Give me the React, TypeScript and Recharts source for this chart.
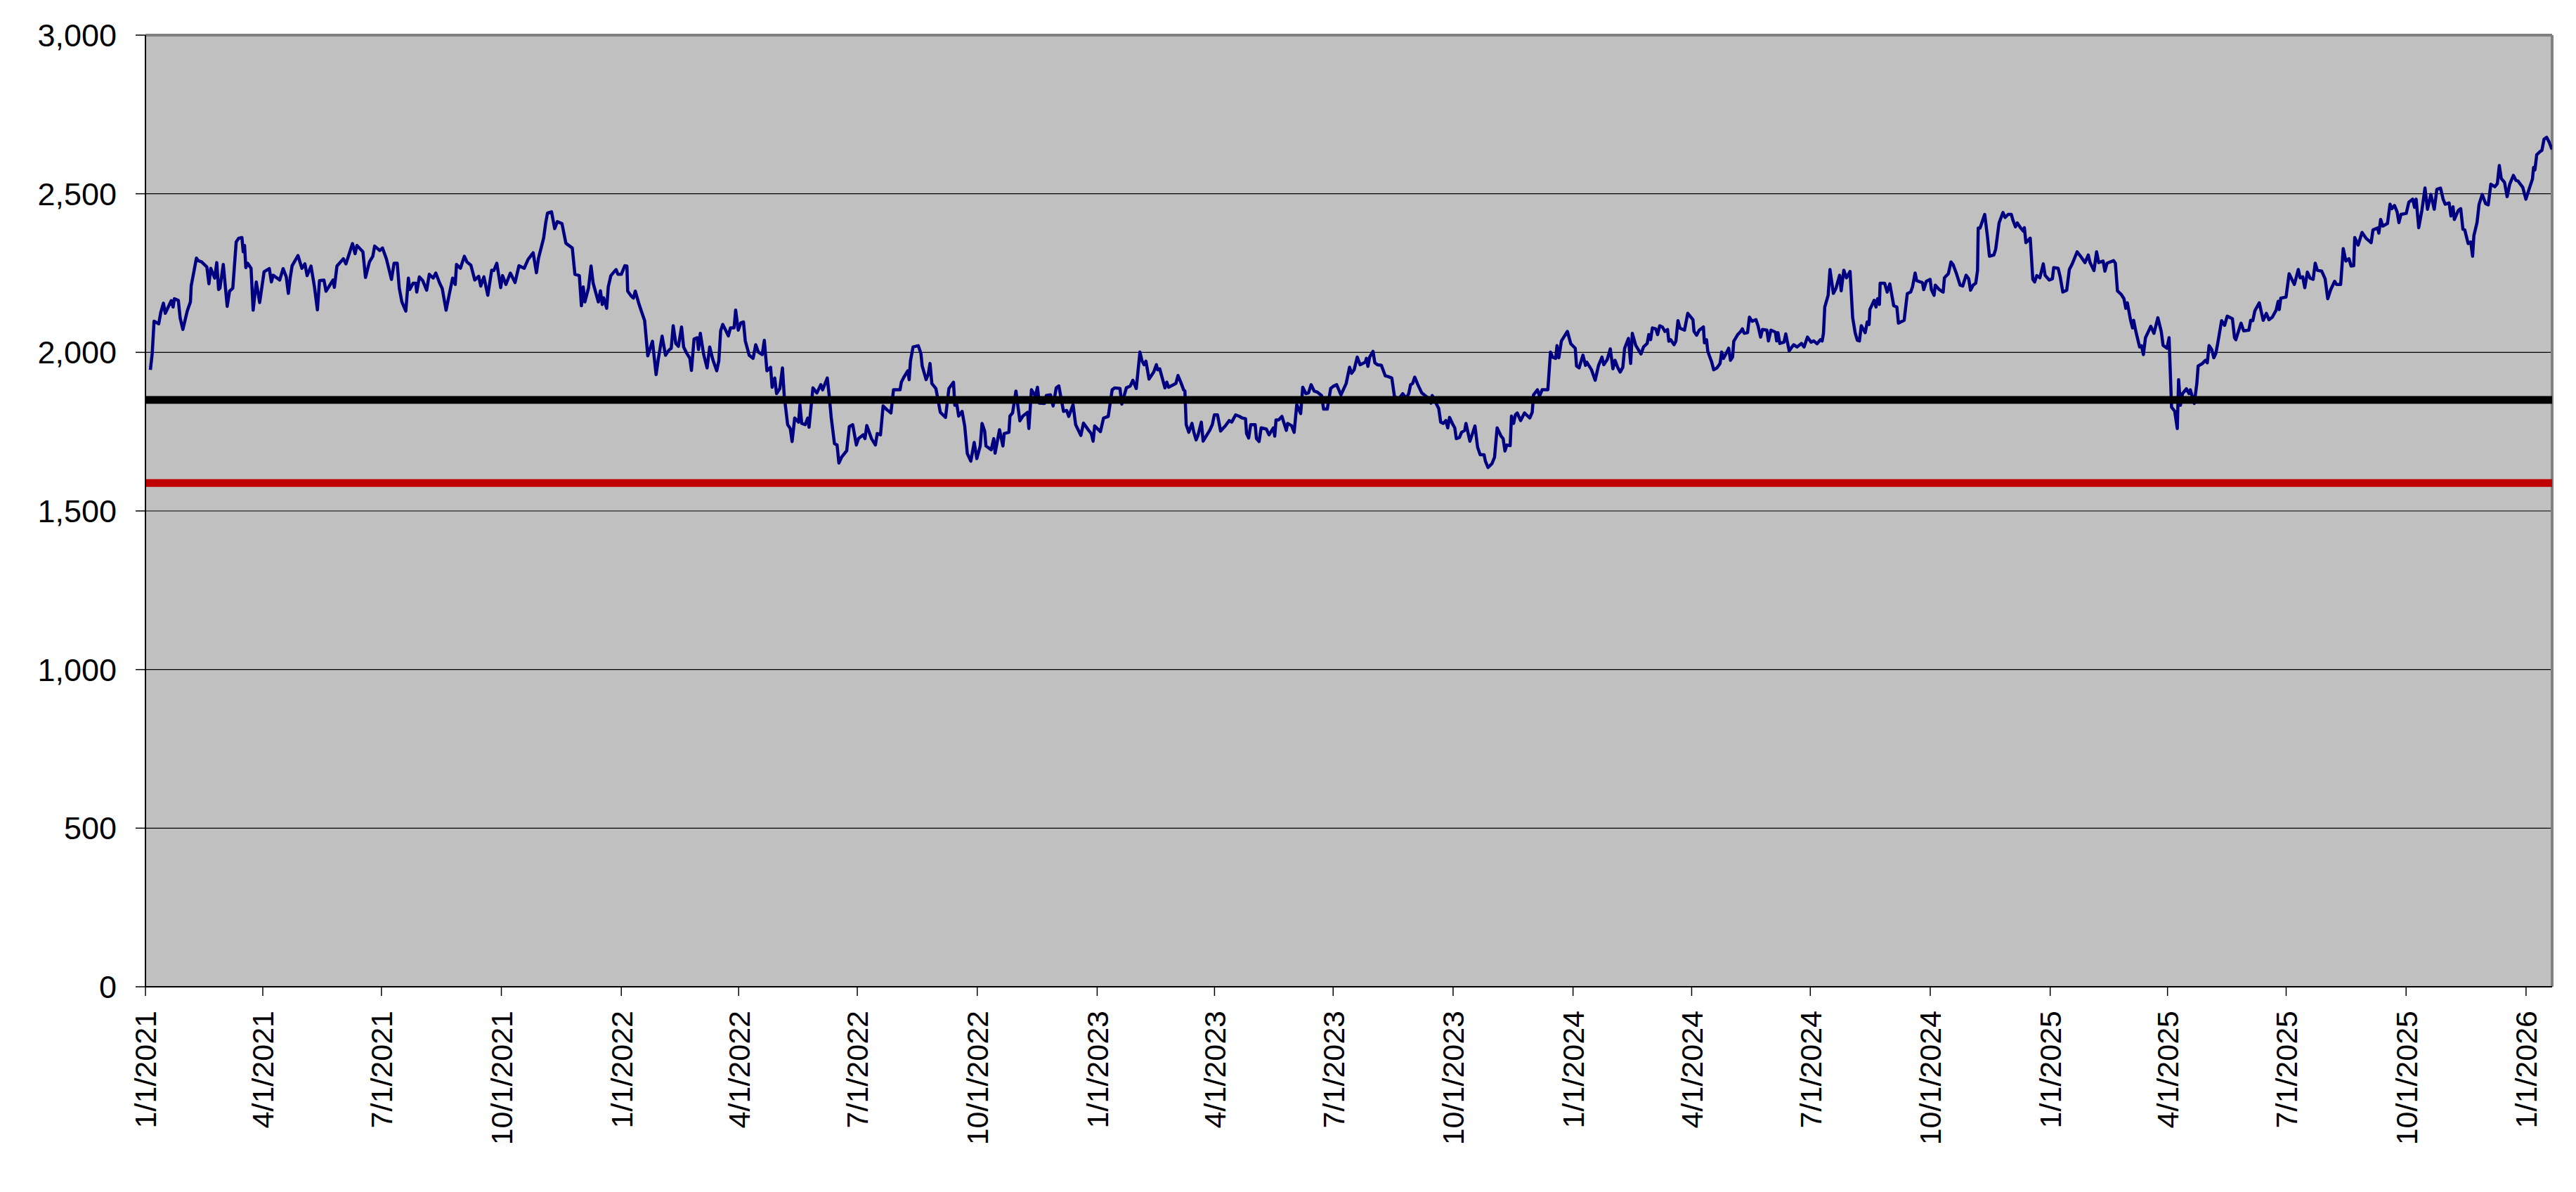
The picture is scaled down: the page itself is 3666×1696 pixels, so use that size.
import { LineChart, Line, XAxis, YAxis, CartesianGrid, ReferenceLine } from 'recharts'

// days since 1/1/2021, index value
const indexPoints: [number, number][] = [
  [3.8, 1945], [5.2, 1997], [6.6, 2098], [10.2, 2090], [11.8, 2127], [13.8, 2155], [15.2, 2123], [19.8, 2163], [21.2, 2143], [22.2, 2169], [25.2, 2164], [26.6, 2109], [28.7, 2072], [32.1, 2131], [34.5, 2159], [35.1, 2210], [39.1, 2297], [40.5, 2289], [43.1, 2285], [47.1, 2269], [48.7, 2216], [50.1, 2265], [53.1, 2234], [54.7, 2283], [56.1, 2198], [57.1, 2202], [59.7, 2277], [62.7, 2145], [64.5, 2193], [67.0, 2202], [69.6, 2348], [71.6, 2360], [74.0, 2362], [75.0, 2317], [76.0, 2337], [77.0, 2267], [78.4, 2281], [81.0, 2265], [82.6, 2133], [85.0, 2222], [87.6, 2157], [91.0, 2254], [95.0, 2264], [96.6, 2222], [98.0, 2243], [103.0, 2228], [105.6, 2264], [108.0, 2238], [109.6, 2186], [111.0, 2234], [112.5, 2273], [117.0, 2305], [120.0, 2265], [122.3, 2279], [124.0, 2242], [127.0, 2272], [129.5, 2210], [131.9, 2134], [133.5, 2226], [136.9, 2228], [138.5, 2193], [143.9, 2228], [144.9, 2205], [146.9, 2272], [151.8, 2295], [153.8, 2279], [158.8, 2343], [160.8, 2311], [162.2, 2337], [166.8, 2317], [168.8, 2236], [171.8, 2285], [174.4, 2303], [175.8, 2335], [179.8, 2321], [181.8, 2329], [184.8, 2295], [188.7, 2230], [190.7, 2281], [193.1, 2281], [194.7, 2202], [196.7, 2159], [199.7, 2130], [201.7, 2234], [202.7, 2198], [205.3, 2218], [207.3, 2218], [208.1, 2190], [210.1, 2238], [212.7, 2226], [215.7, 2196], [217.7, 2246], [220.7, 2234], [222.7, 2250], [225.7, 2218], [227.6, 2202], [230.6, 2133], [233.2, 2186], [235.6, 2234], [237.6, 2214], [238.6, 2277], [241.6, 2265], [244.6, 2303], [246.6, 2285], [249.6, 2275], [252.6, 2228], [255.6, 2240], [257.2, 2209], [259.6, 2238], [262.6, 2180], [265.6, 2259], [267.2, 2258], [269.5, 2281], [272.5, 2204], [273.9, 2242], [276.5, 2214], [279.9, 2250], [283.5, 2220], [286.5, 2273], [290.5, 2265], [293.5, 2293], [297.4, 2314], [299.9, 2251], [301.5, 2297], [305.4, 2360], [307.0, 2408], [308.4, 2439],
  [311.5, 2443], [313.9, 2390], [315.9, 2412], [319.5, 2406], [322.5, 2344], [327.4, 2329], [329.4, 2246], [332.8, 2242], [334.4, 2147], [335.8, 2206], [337.0, 2159], [339.8, 2202], [341.8, 2272], [343.4, 2218], [347.4, 2159], [349.0, 2194], [350.4, 2151], [351.4, 2172], [353.8, 2139], [355.0, 2206], [357.0, 2242], [361.0, 2261], [362.4, 2246], [365.0, 2246], [367.7, 2273], [369.3, 2272], [369.9, 2193], [372.3, 2179], [374.3, 2171], [375.7, 2193], [378.3, 2156], [380.3, 2131], [382.9, 2100], [385.3, 1989], [388.9, 2035], [391.7, 1930], [393.3, 1977], [396.3, 2051], [398.9, 1991], [401.3, 2006], [403.3, 2013], [404.8, 2084], [406.8, 2028], [408.8, 2019], [411.2, 2080], [412.8, 2017], [415.2, 1997], [417.6, 1981], [418.8, 1943], [420.8, 2042], [423.2, 2046], [424.2, 2009], [425.6, 2060], [428.2, 1993], [430.8, 1951], [432.8, 2017], [435.2, 1977], [438.2, 1942], [439.8, 1973], [441.2, 2068], [442.8, 2088], [445.5, 2066], [447.1, 2052], [448.7, 2077], [451.5, 2077], [452.7, 2133], [454.7, 2070], [456.7, 2093], [458.7, 2096], [460.1, 2036], [463.1, 1991], [466.1, 1981], [468.1, 2024], [470.1, 2001], [473.1, 1993], [474.7, 2038], [476.7, 1942], [479.5, 1953], [480.7, 1890], [482.7, 1919], [484.1, 1870], [486.6, 1886], [488.6, 1951], [490.0, 1862], [492.6, 1772], [494.6, 1760], [496.0, 1719], [498.0, 1793], [501.0, 1780], [502.0, 1835], [503.4, 1776], [506.0, 1772], [508.0, 1793], [509.0, 1764], [512.0, 1888], [515.0, 1872], [518.0, 1898], [519.4, 1882], [523.0, 1919], [524.6, 1859], [526.0, 1795], [528.5, 1712], [530.5, 1708], [531.9, 1651], [533.9, 1669], [537.9, 1690], [539.9, 1766], [542.5, 1772], [545.3, 1708], [546.9, 1728], [550.5, 1740], [551.9, 1728], [553.3, 1769], [556.9, 1728], [559.9, 1708], [561.3, 1744], [563.8, 1740], [565.8, 1831], [568.8, 1819], [571.8, 1809], [573.8, 1882], [578.8, 1882], [579.8, 1906], [581.8, 1922], [584.8, 1942], [585.8, 1914], [586.8, 1973], [588.8, 2017], [592.8, 2021], [594.8, 1997], [595.8, 1957], [598.8, 1914], [600.4, 1930], [601.8, 1965], [603.2, 1902], [606.3, 1886], [609.7, 1811], [613.7, 1795], [616.3, 1886],
  [619.8, 1906], [620.8, 1833], [622.4, 1835], [623.8, 1799], [626.4, 1814], [628.4, 1768], [630.4, 1681], [633.1, 1657], [635.7, 1716], [637.7, 1665], [640.3, 1705], [641.7, 1776], [643.7, 1752], [644.7, 1705], [648.7, 1693], [650.7, 1728], [651.7, 1682], [655.1, 1756], [657.7, 1705], [658.7, 1744], [662.3, 1748], [663.1, 1799], [665.1, 1809], [667.7, 1878], [670.7, 1784], [673.0, 1799], [676.6, 1811], [677.6, 1760], [679.6, 1882], [682.6, 1862], [684.2, 1890], [685.6, 1840], [689.6, 1839], [691.0, 1864], [694.2, 1866], [696.2, 1831], [698.6, 1888], [700.6, 1894], [704.2, 1814], [706.6, 1817], [708.2, 1798], [711.5, 1835], [713.5, 1772], [717.5, 1738], [719.5, 1777], [723.5, 1754], [725.5, 1744], [726.9, 1720], [728.1, 1768], [732.5, 1750], [734.9, 1793], [738.5, 1798], [741.5, 1882], [743.5, 1888], [747.5, 1886], [748.9, 1837], [752.4, 1888], [755.4, 1894], [757.4, 1912], [760.0, 1886], [762.8, 2001], [764.4, 1973], [766.0, 1961], [767.4, 1972], [769.8, 1916], [773.4, 1938], [775.4, 1961], [776.4, 1945], [778.0, 1948], [782.0, 1888], [783.4, 1906], [784.8, 1890], [790.4, 1902], [792.0, 1927], [794.3, 1904], [796.3, 1882], [797.3, 1878], [798.3, 1772], [800.3, 1748], [802.7, 1776], [804.3, 1746], [805.9, 1724], [807.3, 1738], [809.9, 1780], [811.3, 1720], [813.9, 1738], [816.3, 1754], [818.3, 1772], [819.9, 1803], [822.3, 1803], [824.7, 1752], [828.3, 1768], [831.3, 1785], [833.2, 1780], [836.2, 1803], [839.2, 1798], [841.2, 1793], [843.8, 1791], [844.6, 1744], [846.2, 1730], [847.8, 1772], [851.2, 1772], [852.2, 1728], [854.2, 1719], [855.8, 1762], [859.8, 1758], [861.8, 1740], [865.2, 1762], [866.2, 1736], [867.2, 1787], [869.2, 1787], [871.7, 1798], [875.1, 1754], [876.1, 1776], [879.1, 1769], [881.1, 1748], [883.1, 1835], [886.1, 1807], [887.7, 1890], [890.1, 1870], [892.1, 1872], [894.1, 1898], [896.5, 1878], [899.1, 1874], [902.1, 1864], [903.7, 1821], [906.5, 1821], [909.1, 1886], [911.1, 1893], [913.7, 1898], [917.0, 1866], [921.0, 1902], [923.6, 1953],
  [925.1, 1934], [927.1, 1945], [929.5, 1985], [931.7, 1961], [935.7, 1969], [936.5, 1981], [937.7, 1956], [939.0, 1985], [941.6, 2003], [943.0, 1967], [945.0, 1961], [948.0, 1959], [951.0, 1926], [953.0, 1924], [956.0, 1919], [958.0, 1862], [961.0, 1851], [964.4, 1870], [967.0, 1855], [969.0, 1870], [970.4, 1898], [972.0, 1902], [973.6, 1922], [976.0, 1898], [979.0, 1872], [983.0, 1859], [986.0, 1840], [987.0, 1864], [990.0, 1839], [992.0, 1823], [993.5, 1780], [995.5, 1776], [997.5, 1785], [998.9, 1762], [1000.3, 1795], [1002.9, 1772], [1004.3, 1762], [1005.5, 1728], [1007.9, 1732], [1009.5, 1748], [1011.9, 1754], [1012.9, 1776], [1015.9, 1720], [1017.9, 1744], [1019.8, 1768], [1021.8, 1701], [1023.8, 1677], [1026.8, 1677], [1027.8, 1657], [1029.8, 1637], [1032.8, 1649], [1034.8, 1669], [1036.8, 1762], [1039.8, 1736], [1041.4, 1728], [1042.8, 1689], [1044.2, 1708], [1046.8, 1706], [1047.8, 1799], [1049.4, 1776], [1050.8, 1803], [1052.2, 1809], [1054.8, 1785], [1057.8, 1809], [1061.8, 1793], [1063.7, 1811], [1064.7, 1866], [1067.7, 1882], [1069.3, 1862], [1071.3, 1882], [1075.7, 1882], [1077.7, 2001], [1079.3, 1985], [1081.7, 1981], [1082.7, 2021], [1084.1, 1983], [1086.1, 2036], [1090.7, 2066], [1093.3, 2027], [1096.7, 2013], [1097.7, 1957], [1099.7, 1951], [1102.6, 1991], [1104.6, 1959], [1105.6, 1969], [1109.2, 1945], [1112.0, 1912], [1114.6, 1959], [1117.2, 1985], [1118.6, 1961], [1121.2, 1977], [1123.6, 2011], [1125.6, 1948], [1127.2, 1975], [1129.2, 1953], [1131.2, 1938], [1133.2, 1953], [1134.6, 2013], [1137.5, 2044], [1139.2, 1965], [1140.5, 2060], [1143.1, 2022], [1147.1, 1995], [1149.1, 2017], [1151.9, 2028], [1153.1, 2056], [1154.5, 2040], [1155.9, 2077], [1158.5, 2074], [1159.9, 2056], [1161.5, 2084], [1163.5, 2080], [1165.5, 2066], [1167.5, 2072], [1168.5, 2035], [1169.9, 2040], [1172.5, 2024], [1173.9, 2035], [1175.5, 2100], [1177.1, 2076], [1180.5, 2070], [1183.0, 2123], [1185.4, 2111], [1187.0, 2103], [1187.8, 2066], [1189.8, 2054], [1191.8, 2070], [1195.0, 2080], [1195.8, 2030], [1197.4, 2040], [1198.4, 2003], [1201.4, 1969], [1202.9, 1945], [1205.4, 1951], [1207.8, 1965], [1209.0, 2001], [1210.4, 1981], [1213.0, 2001], [1214.4, 2013], [1215.8, 1975], [1217.4, 1985], [1218.3, 2035], [1221.3, 2056], [1223.3, 2064], [1224.9, 2074], [1226.3, 2060], [1228.9, 2062], [1230.3, 2111],
  [1232.3, 2098], [1235.3, 2103], [1236.9, 2084], [1238.9, 2048], [1240.3, 2072], [1243.7, 2070], [1244.9, 2036], [1246.8, 2070], [1250.2, 2064], [1251.2, 2036], [1252.2, 2062], [1253.6, 2028], [1256.8, 2032], [1258.2, 2058], [1260.8, 2005], [1264.2, 2024], [1266.8, 2017], [1270.2, 2028], [1272.2, 2017], [1274.8, 2048], [1277.6, 2032], [1279.6, 2036], [1282.2, 2027], [1284.8, 2040], [1286.1, 2036], [1287.1, 2060], [1288.1, 2143], [1290.7, 2180], [1292.1, 2261], [1294.7, 2186], [1296.7, 2202], [1299.5, 2243], [1300.7, 2194], [1302.7, 2259], [1304.7, 2235], [1306.1, 2245], [1307.5, 2255], [1309.5, 2109], [1311.5, 2060], [1313.1, 2038], [1314.7, 2036], [1316.1, 2084], [1319.1, 2062], [1320.7, 2096], [1322.1, 2088], [1322.7, 2135], [1326.0, 2164], [1327.4, 2143], [1328.6, 2169], [1330.0, 2151], [1330.6, 2218], [1334.0, 2218], [1336.0, 2190], [1338.0, 2216], [1341.0, 2147], [1343.4, 2143], [1344.6, 2092], [1349.0, 2101], [1351.4, 2185], [1354.0, 2190], [1355.4, 2206], [1357.4, 2250], [1358.6, 2226], [1363.0, 2220], [1364.0, 2198], [1366.0, 2224], [1368.9, 2230], [1369.9, 2198], [1371.9, 2180], [1372.9, 2212], [1375.9, 2198], [1377.3, 2194], [1378.9, 2190], [1379.9, 2235], [1382.9, 2248], [1384.9, 2285], [1386.5, 2277], [1389.3, 2246], [1391.9, 2212], [1393.9, 2209], [1396.5, 2243], [1398.5, 2232], [1399.9, 2196], [1401.9, 2212], [1403.9, 2218], [1405.3, 2258], [1405.8, 2392], [1407.2, 2392], [1410.8, 2435], [1412.8, 2368], [1414.4, 2303], [1417.8, 2307], [1419.2, 2325], [1421.8, 2408], [1424.8, 2441], [1426.4, 2425], [1428.8, 2435], [1431.2, 2435], [1432.4, 2417], [1434.4, 2396], [1435.8, 2408], [1438.4, 2392], [1440.4, 2382], [1441.2, 2393], [1442.4, 2346], [1444.4, 2354], [1445.7, 2360], [1447.7, 2230], [1449.1, 2222], [1450.7, 2242], [1453.1, 2235], [1455.7, 2279], [1457.1, 2243], [1460.3, 2228], [1462.7, 2232], [1463.7, 2267], [1467.1, 2265], [1468.7, 2238], [1470.7, 2190], [1473.7, 2196], [1475.7, 2261], [1477.7, 2277], [1481.7, 2317], [1484.3, 2303], [1487.7, 2283], [1490.2, 2307], [1491.6, 2283], [1494.6, 2258], [1496.6, 2317], [1498.2, 2283], [1501.6, 2288], [1503.0, 2256], [1504.6, 2281], [1509.6, 2289], [1511.0, 2281], [1512.6, 2194], [1515.6, 2182], [1517.6, 2169], [1519.0, 2139], [1520.2, 2156], [1522.6, 2103], [1524.2, 2077], [1525.0, 2101], [1526.6, 2068], [1529.6, 2017], [1531.0, 2021], [1532.5, 1993], [1534.1, 2046],
  [1536.6, 2068], [1538.2, 2082], [1540.6, 2060], [1543.6, 2109], [1546.2, 2066], [1547.6, 2022], [1550.6, 2013], [1552.2, 2046], [1554.1, 1827], [1556.5, 1815], [1558.5, 1760], [1559.5, 1914], [1560.9, 1833], [1562.5, 1870], [1565.5, 1885], [1567.5, 1870], [1568.5, 1882], [1571.5, 1839], [1573.5, 1902], [1574.5, 1957], [1577.5, 1964], [1580.1, 1975], [1581.5, 1967], [1582.9, 2021], [1584.9, 2009], [1586.5, 1983], [1588.1, 1997], [1589.5, 2028], [1592.5, 2100], [1594.8, 2085], [1596.8, 2114], [1600.8, 2106], [1602.4, 2046], [1603.4, 2040], [1607.4, 2092], [1609.4, 2068], [1613.4, 2070], [1614.8, 2101], [1616.4, 2100], [1618.0, 2131], [1621.4, 2156], [1624.4, 2101], [1626.8, 2123], [1628.8, 2103], [1631.4, 2111], [1634.3, 2133], [1635.9, 2161], [1636.7, 2135], [1637.9, 2171], [1641.9, 2174], [1644.3, 2248], [1648.3, 2214], [1651.3, 2261], [1652.7, 2235], [1654.7, 2238], [1656.3, 2204], [1658.3, 2253], [1660.3, 2234], [1662.7, 2230], [1664.3, 2281], [1665.9, 2259], [1669.3, 2256], [1671.9, 2232], [1673.9, 2169], [1676.2, 2198], [1679.2, 2224], [1680.6, 2214], [1683.8, 2214], [1685.8, 2327], [1687.8, 2288], [1690.2, 2295], [1691.8, 2272], [1693.8, 2273], [1694.6, 2362], [1697.2, 2338], [1700.2, 2378], [1703.2, 2360], [1707.2, 2346], [1708.6, 2386], [1712.2, 2392], [1713.1, 2376], [1714.5, 2419], [1716.1, 2398], [1719.7, 2406], [1721.7, 2467], [1723.1, 2453], [1725.1, 2463], [1727.1, 2443], [1728.5, 2409], [1730.1, 2435], [1734.1, 2438], [1736.1, 2473], [1739.1, 2483], [1740.5, 2457], [1741.7, 2483], [1743.7, 2393], [1746.1, 2447], [1748.5, 2518], [1750.4, 2451], [1753.0, 2498], [1755.6, 2451], [1757.6, 2514], [1760.4, 2518], [1762.4, 2483], [1764.0, 2467], [1767.0, 2471], [1768.4, 2430], [1770.0, 2459], [1771.0, 2419], [1774.0, 2447], [1775.9, 2453], [1777.6, 2388], [1779.0, 2386], [1781.6, 2343], [1783.6, 2348], [1785.0, 2303], [1786.0, 2368], [1788.4, 2409], [1790.0, 2467], [1792.4, 2498], [1795.0, 2469], [1797.0, 2465], [1799.0, 2530], [1802.0, 2522], [1804.0, 2532], [1805.5, 2589], [1807.0, 2548], [1809.5, 2536], [1811.5, 2491], [1813.5, 2530], [1816.3, 2558], [1818.3, 2542], [1819.9, 2540], [1823.5, 2520], [1825.9, 2483], [1828.3, 2514], [1830.9, 2546], [1831.8, 2583], [1832.8, 2575], [1834.2, 2623], [1836.8, 2633], [1838.2, 2637], [1839.8, 2672], [1841.8, 2678], [1843.8, 2662], [1845.4, 2645], [1846.0, 2640],
]

const blackLevel = 1850
const redLevel = 1588
const lastDay = 1846

const yTicks = [0, 500, 1000, 1500, 2000, 2500, 3000]
const xTickLabels = [
  '1/1/2021', '4/1/2021', '7/1/2021', '10/1/2021',
  '1/1/2022', '4/1/2022', '7/1/2022', '10/1/2022',
  '1/1/2023', '4/1/2023', '7/1/2023', '10/1/2023',
  '1/1/2024', '4/1/2024', '7/1/2024', '10/1/2024',
  '1/1/2025', '4/1/2025', '7/1/2025', '10/1/2025',
  '1/1/2026',
]

const FONT = '"Liberation Sans", Arial, sans-serif'
const DAY_MS = 86400000
const START = Date.UTC(2021, 0, 1)

function labelToDay(label: string) {
  const [m, d, y] = label.split('/').map(Number)
  return Math.round((Date.UTC(y, m - 1, d) - START) / DAY_MS)
}

const xTicks = xTickLabels.map(labelToDay)
const labelByDay = new Map(xTicks.map((d, i) => [d, xTickLabels[i]]))

const seriesData = indexPoints.map(([day, value]) => ({ day, value }))
const blackData = [{ day: 0, value: blackLevel }, { day: lastDay, value: blackLevel }]
const redData = [{ day: 0, value: redLevel }, { day: lastDay, value: redLevel }]

function DateTick(props: any) {
  const { x, y, payload } = props
  return (
    <text
      x={x}
      y={y}
      transform={`rotate(-90 ${x} ${y})`}
      textAnchor="end"
      dy="0.36em"
      fill="#000"
      fontSize={43}
      fontFamily={FONT}
    >
      {labelByDay.get(payload.value) ?? ''}
    </text>
  )
}

export default function App() {
  return (
    <div style={{ width: 3666, height: 1696, background: '#fff' }}>
      <style>{'body{margin:0}'}</style>
      <LineChart
        width={3666}
        height={1696}
        margin={{ top: 50, right: 34, left: 0, bottom: 0 }}
      >
        <CartesianGrid
          vertical={false}
          stroke="#000"
          strokeWidth={1.2}
          fill="#C0C0C0"
          fillOpacity={1}
        />
        <XAxis
          type="number"
          dataKey="day"
          domain={[0, lastDay]}
          ticks={xTicks}
          interval={0}
          allowDataOverflow
          height={292}
          tickSize={13}
          tickMargin={21}
          tick={(p: any) => <DateTick {...p} />}
          axisLine={{ stroke: '#000', strokeWidth: 2 }}
          tickLine={{ stroke: '#000', strokeWidth: 1.5 }}
        />
        <YAxis
          type="number"
          domain={[0, 3000]}
          ticks={yTicks}
          interval={0}
          width={207}
          tickSize={14}
          tickMargin={27}
          tickFormatter={(v: number) => v.toLocaleString('en-US')}
          tick={{ fill: '#000', fontSize: 45, fontFamily: FONT }}
          axisLine={{ stroke: '#000', strokeWidth: 2 }}
          tickLine={{ stroke: '#000', strokeWidth: 1.5 }}
        />
        <ReferenceLine y={3000} stroke="#808080" strokeWidth={4} />
        <ReferenceLine x={lastDay} stroke="#808080" strokeWidth={4} />
        <Line
          data={seriesData}
          dataKey="value"
          type="linear"
          stroke="#000080"
          strokeWidth={4.5}
          strokeLinejoin="round"
          dot={false}
          activeDot={false}
          isAnimationActive={false}
        />
        <Line
          data={blackData}
          dataKey="value"
          type="linear"
          stroke="#000"
          strokeWidth={11}
          dot={false}
          activeDot={false}
          isAnimationActive={false}
        />
        <Line
          data={redData}
          dataKey="value"
          type="linear"
          stroke="#C00000"
          strokeWidth={11}
          dot={false}
          activeDot={false}
          isAnimationActive={false}
        />
      </LineChart>
    </div>
  )
}
